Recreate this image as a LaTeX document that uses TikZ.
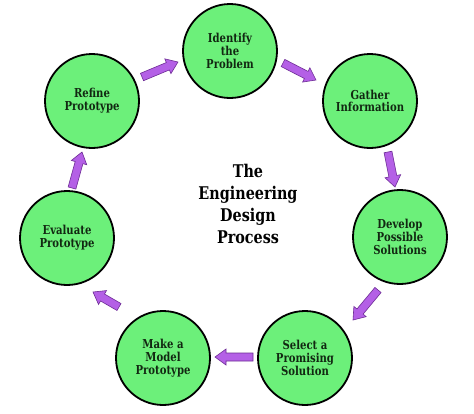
\documentclass[tikz,border=0pt]{standalone}
\usepackage{fontspec}
\newfontfamily\dvs{DejaVu Serif}[FakeStretch=0.82]
\usetikzlibrary{calc}
\definecolor{cgreen}{RGB}{108,240,122}
\definecolor{cpurple}{RGB}{180,96,230}
\definecolor{cpedge}{RGB}{110,45,150}
\definecolor{ctext}{RGB}{18,40,18}
\tikzset{
  stage/.style={circle, draw=black, line width=1.8pt, fill=cgreen, minimum size=94pt, inner sep=0pt,
    align=center, text=ctext, font=\dvs\bfseries\fontsize{12.3}{12.8}\selectfont},
  barrow/.style={fill=cpurple, draw=cpedge, line width=0.6pt, line join=miter},
  titletext/.style={align=center, font=\dvs\bfseries\fontsize{17.5}{21.7}\selectfont}
}
\newcommand\blockarr[2]{%
  \coordinate (#1s) at ($(#2)!11pt!(#1)$);
  \draw[barrow] ($(#1)!4pt!90:(#2)$) -- ($(#1s)!4pt!90:(#2)$) -- ($(#1s)!8pt!90:(#2)$) -- (#2)
    -- ($(#1s)!8pt!-90:(#2)$) -- ($(#1s)!4pt!-90:(#2)$) -- ($(#1)!4pt!-90:(#2)$) -- cycle;}
\begin{document}
\begin{tikzpicture}[x=1pt,y=-1pt]
\useasboundingbox[fill=white] (0,0) rectangle (474,413);
\node[stage] (ident) at (230,51) {Identify\\the\\Problem};
\node[stage] (gather) at (370,101) {Gather\\Information};
\node[stage] (develop) at (400,237) {Develop\\Possible\\Solutions};
\node[stage] (select) at (305,358) {Select a\\Promising\\Solution};
\node[stage] (make) at (163,358) {Make a\\Model\\Prototype};
\node[stage] (eval) at (67,238) {Evaluate\\Prototype};
\node[stage] (refine) at (92,101) {Refine\\Prototype};
\node[titletext] (title) at (248,204) {The\\Engineering\\Design\\Process};
\coordinate (t1) at (142,77); \coordinate (h1) at (178,62);
\coordinate (t2) at (283,63); \coordinate (h2) at (316,80);
\coordinate (t3) at (388,152); \coordinate (h3) at (395,187);
\coordinate (t4) at (378,290); \coordinate (h4) at (353,320);
\coordinate (t5) at (253,357); \coordinate (h5) at (215,357);
\coordinate (t6) at (119,307); \coordinate (h6) at (93,292);
\coordinate (t7) at (72,188); \coordinate (h7) at (82,152);
\blockarr{t1}{h1}
\blockarr{t2}{h2}
\blockarr{t3}{h3}
\blockarr{t4}{h4}
\blockarr{t5}{h5}
\blockarr{t6}{h6}
\blockarr{t7}{h7}
\end{tikzpicture}
\end{document}
